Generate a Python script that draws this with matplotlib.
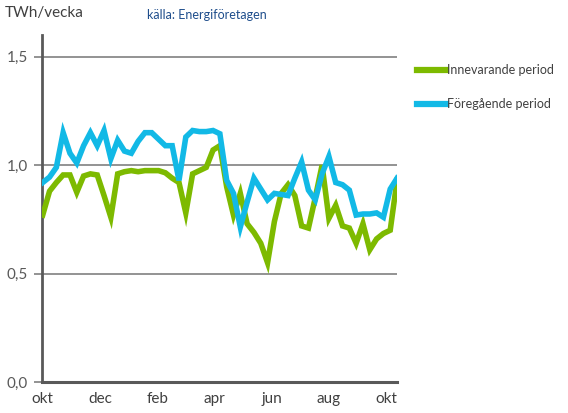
import numpy as np
import matplotlib
matplotlib.use("Agg")
import matplotlib.pyplot as plt

# weekly energy use, TWh/vecka
innevarande = [0.77, 0.88, 0.92, 0.955, 0.955, 0.875, 0.95, 0.96, 0.955, 0.86,
               0.76, 0.96, 0.97, 0.975, 0.97, 0.975, 0.975, 0.975, 0.965, 0.94,
               0.92, 0.78, 0.96, 0.975, 0.99, 1.07, 1.09, 0.90, 0.77, 0.87,
               0.73, 0.69, 0.64, 0.55, 0.74, 0.87, 0.91, 0.86, 0.72, 0.71,
               0.85, 1.00, 0.755, 0.815, 0.72, 0.71, 0.64, 0.73, 0.61, 0.66,
               0.685, 0.70, 0.93]
foregaende = [0.92, 0.945, 0.99, 1.15, 1.055, 1.01, 1.09, 1.15, 1.09, 1.16,
              1.03, 1.115, 1.065, 1.055, 1.11, 1.15, 1.15, 1.12, 1.09, 1.09,
              0.93, 1.13, 1.16, 1.155, 1.155, 1.16, 1.145, 0.93, 0.87, 0.715,
              0.83, 0.94, 0.89, 0.84, 0.87, 0.865, 0.86, 0.94, 1.015, 0.885,
              0.84, 0.96, 1.04, 0.92, 0.91, 0.885, 0.77, 0.775, 0.775, 0.78,
              0.76, 0.89, 0.94]
month_labels = ["okt", "dec", "feb", "apr", "jun", "aug", "okt"]
y_ticks = [0.0, 0.5, 1.0, 1.5]

plt.rcParams["font.family"] = ["Lato", "DejaVu Sans"]

GREEN = "#7DBA00"
BLUE = "#12B9E6"
GREY = "#595959"

fig = plt.figure(figsize=(5.68, 4.13), dpi=100)
ax = fig.add_axes([0.074, 0.075, 0.625, 0.840])

weeks = np.arange(len(innevarande))
ax.plot(weeks, innevarande, color=GREEN, lw=4, solid_joinstyle="miter",
        label="Innevarande period", zorder=3)
ax.plot(weeks, foregaende, color=BLUE, lw=4, solid_joinstyle="miter",
        label="Föregående period", zorder=4)

ax.set_xlim(-0.1, len(weeks) - 1)
ax.set_ylim(0, 1.6)

ax.set_yticks(y_ticks)
ax.set_yticklabels([f"{t:.1f}".replace(".", ",") for t in y_ticks])
for t in y_ticks[1:]:
    ax.axhline(t, color="#808080", lw=1.2, zorder=1)

ax.set_xticks(np.arange(len(month_labels)) * 8.4)
ax.set_xticklabels(month_labels)
ax.tick_params(axis="x", length=0, pad=7, labelsize=11, colors="#404040")
ax.tick_params(axis="y", length=6, width=1.2, color="#808080", pad=4,
               labelsize=11, labelcolor=GREY)

for side in ["top", "right"]:
    ax.spines[side].set_visible(False)
ax.spines["left"].set_color(GREY)
ax.spines["left"].set_linewidth(2)
ax.spines["bottom"].set_color(GREY)
ax.spines["bottom"].set_linewidth(2.2)

fig.text(0.009, 0.958, "TWh/vecka", fontsize=11, color="#404040")
fig.text(0.258, 0.955, "källa: Energiföretagen", fontsize=9, color="#1F4E8C")

leg = fig.legend(loc="upper left", bbox_to_anchor=(0.715, 0.872), frameon=False,
                 fontsize=9, handlelength=2.3, handletextpad=0.1,
                 labelspacing=1.75, labelcolor="#404040")
for line in leg.get_lines():
    line.set_linewidth(4.5)

fig.savefig("out.png", dpi=100)
